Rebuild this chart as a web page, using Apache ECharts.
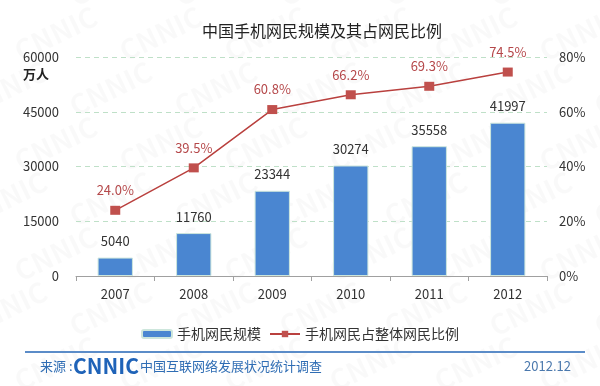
<!DOCTYPE html>
<html>
<head>
<meta charset="utf-8">
<script src="https://cdn.jsdelivr.net/npm/echarts@6/dist/echarts.min.js"></script>
<style>
html,body{margin:0;padding:0;background:#fff;}
#chart{width:600px;height:386px;}
</style>
</head>
<body>
<div id="chart"></div>
<script>
const categories = ['2007', '2008', '2009', '2010', '2011', '2012'];
const mobileUsers = [5040, 11760, 23344, 30274, 35558, 41997];
const mobileShare = [24.0, 39.5, 60.8, 66.2, 69.3, 74.5];
const seriesNames = ['手机网民规模', '手机网民占整体网民比例'];
const titleText = '中国手机网民规模及其占网民比例';
const unitText = '万人';
const sourceLabel = '来源 :';
const sourceName = '中国互联网络发展状况统计调查';
const dateText = '2012.12';

const FONT = '"Noto Sans CJK SC", "Noto Sans", sans-serif';
const chart = echarts.init(document.getElementById('chart'), null, {renderer: 'canvas'});

const watermarks = [];
for (let r = 0; r < 8; r++) {
  for (let c = 0; c < 7; c++) {
    watermarks.push({
      type: 'text', x: c * 105 - 40 + (r % 2) * 50, y: r * 55 - 15, rotation: 0.45, z: -10, silent: true,
      style: {text: 'CNNIC', font: 'bold 28px ' + FONT, fill: 'rgba(0,0,0,0.025)'}
    });
  }
}

chart.setOption({
  backgroundColor: '#fff',
  textStyle: {fontFamily: FONT},
  animation: false,
  grid: {left: 76, right: 53, top: 57, bottom: 110, containLabel: false},
  legend: {
    data: seriesNames, left: 'center', top: 322, itemWidth: 30, itemHeight: 8, itemGap: 8,
    textStyle: {fontSize: 14, color: '#333', fontFamily: FONT}
  },
  xAxis: {
    type: 'category', data: categories,
    axisLine: {lineStyle: {color: '#a0a0a0'}},
    axisTick: {show: true, length: 5, lineStyle: {color: '#a0a0a0'}},
    axisLabel: {fontSize: 13, color: '#333', margin: 12}
  },
  yAxis: [{
    type: 'value', min: 0, max: 60000, interval: 15000,
    axisLine: {show: false}, axisTick: {show: false},
    axisLabel: {fontSize: 13, color: '#333', margin: 17, formatter: v => String(v)},
    splitLine: {lineStyle: {color: '#bfe0c8', type: [5, 4], width: 1}}
  }, {
    type: 'value', min: 0, max: 80, interval: 20,
    axisLine: {show: false}, axisTick: {show: false},
    axisLabel: {fontSize: 13, color: '#333', margin: 12, formatter: '{value}%'},
    splitLine: {show: false}
  }],
  series: [{
    name: seriesNames[0], type: 'bar', data: mobileUsers, barWidth: '45%',
    itemStyle: {color: '#4a86d1', borderColor: '#cde6dc', borderWidth: 1},
    label: {show: true, position: 'top', distance: 10, fontSize: 13, color: '#333'}
  }, {
    name: seriesNames[1], type: 'line', yAxisIndex: 1, data: mobileShare,
    symbol: 'rect', symbolSize: [10, 9],
    lineStyle: {color: '#b9403e', width: 1.5},
    itemStyle: {color: '#c0504d'},
    label: {show: true, position: 'top', distance: 9, fontSize: 13, color: '#b5484a',
      formatter: p => p.value.toFixed(1) + '%'}
  }],
  graphic: watermarks.concat([
    {type: 'text', x: 322, y: 31, style: {text: titleText, font: '16px ' + FONT, fill: '#222', textAlign: 'center', textVerticalAlign: 'middle'}},
    {type: 'text', x: 36, y: 74, style: {text: unitText, font: 'bold 13px ' + FONT, fill: '#222', textAlign: 'center', textVerticalAlign: 'middle'}},
    {type: 'line', shape: {x1: 25, y1: 352, x2: 585, y2: 352}, style: {stroke: '#5b8cc8', lineWidth: 2}},
    {type: 'text', x: 40, y: 366, style: {text: sourceLabel, font: '13px ' + FONT, fill: '#2f6db4', textVerticalAlign: 'middle'}},
    {type: 'text', x: 73, y: 366, style: {text: 'CNNIC', font: 'bold 21px ' + FONT, fill: '#1f63b8', textVerticalAlign: 'middle'}},
    {type: 'text', x: 140, y: 366, style: {text: sourceName, font: '13px ' + FONT, fill: '#2f6db4', textVerticalAlign: 'middle'}},
    {type: 'text', x: 571, y: 366, style: {text: dateText, font: '13px ' + FONT, fill: '#4a78ad', textAlign: 'right', textVerticalAlign: 'middle'}}
  ])
});
</script>
</body>
</html>
